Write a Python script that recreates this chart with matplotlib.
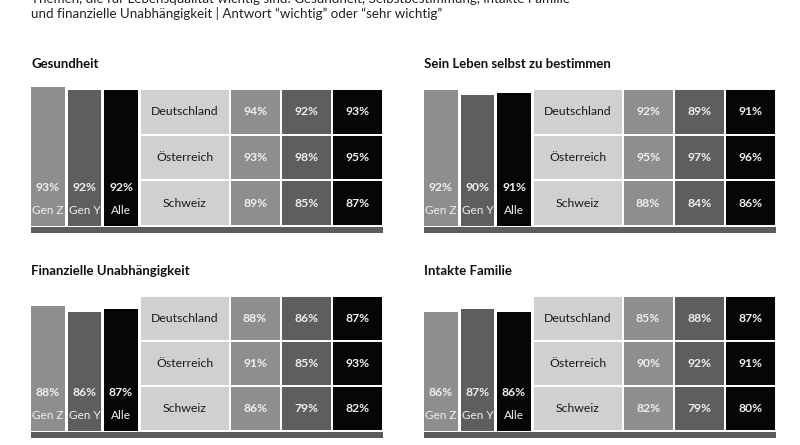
import matplotlib.pyplot as plt

plt.rcParams['font.family'] = ['Lato', 'DejaVu Sans']

header = ['Themen, die für Lebensqualität wichtig sind: Gesundheit, Selbstbestimmung, intakte Familie',
          'und finanzielle Unabhängigkeit | Antwort “wichtig” oder “sehr wichtig”']

titles = ['Gesundheit', 'Sein Leben selbst zu bestimmen',
          'Finanzielle Unabhängigkeit', 'Intakte Familie']
groups = ['Gen Z', 'Gen Y', 'Alle']
countries = ['Deutschland', 'Österreich', 'Schweiz']

# overall values per generation (Gen Z, Gen Y, Alle)
gesundheit_total = [93, 92, 92]
leben_total = [92, 90, 91]
finanz_total = [88, 86, 87]
familie_total = [86, 87, 86]

# per country rows, columns Gen Z, Gen Y, Alle
gesundheit_land = [[94, 92, 93], [93, 98, 95], [89, 85, 87]]
leben_land = [[92, 89, 91], [95, 97, 96], [88, 84, 86]]
finanz_land = [[88, 86, 87], [91, 85, 93], [86, 79, 82]]
familie_land = [[85, 88, 87], [90, 92, 91], [82, 79, 80]]

totals = [gesundheit_total, leben_total, finanz_total, familie_total]
tables = [gesundheit_land, leben_land, finanz_land, familie_land]

colors = ['#8e8e8e', '#5e5e5e', '#060606']
land_color = '#d0d0d0'
strip_color = '#5c5c5c'

W, H = 800, 445
fig = plt.figure(figsize=(8, 4.45), dpi=100)


def px_axes(x, y_top, w, h):
    return fig.add_axes([x / W, 1 - (y_top + h) / H, w / W, h / H])


# header text (first line is cut off at the top edge, as in the source)
fig.text(31 / W, 1 - (-1) / H, header[0], fontsize=9.6, color='#222222',
         va='center', ha='left')
fig.text(31 / W, 1 - 13 / H, header[1], fontsize=9.6, color='#222222',
         va='center', ha='left')

# panel origins: left edge of bars, top and bottom of table
origins = [(31, 89, 226), (424, 89, 226), (31, 296, 431), (424, 296, 431)]

v0 = 45
px_per_pct = 2.9

for k, (x0, top, bot) in enumerate(origins):
    # title
    fig.text(x0 / W, 1 - (top - 25) / H, titles[k], fontsize=9.5,
             fontweight='bold', color='#111111', va='center', ha='left')

    # bars
    bh = 150
    ax = px_axes(x0, bot - bh, 107, bh)
    xs = list(range(len(groups)))
    ax.bar(xs, [v - v0 for v in totals[k]], bottom=v0, width=0.93,
           color=colors)
    ax.set_xlim(-0.465, 2.465)
    ax.set_ylim(v0, v0 + bh / px_per_pct)
    ax.axis('off')
    for i, v in enumerate(totals[k]):
        ax.annotate(f'{v}%', xy=(i, v0), xytext=(0, 27.5),
                    textcoords='offset points', ha='center', va='center',
                    fontsize=8.7, fontweight='bold', color='#f0f0f0')
        ax.annotate(groups[i], xy=(i, v0), xytext=(0, 11.5),
                    textcoords='offset points', ha='center', va='center',
                    fontsize=8.5, color='#f0f0f0')

    # table
    tax = px_axes(x0 + 109, top, 243, bot - top)
    widths = [1.75, 1, 1, 1]
    lefts = [0, 1.75, 2.75, 3.75]
    for r, land in enumerate(countries):
        tax.bar(lefts[0], 1, width=widths[0], bottom=r, align='edge',
                color=land_color, edgecolor='white', linewidth=1.4)
        tax.text(lefts[0] + widths[0] / 2, r + 0.5, land, fontsize=8.8,
                 ha='center', va='center', color='#1a1a1a')
        for c, v in enumerate(tables[k][r]):
            tax.bar(lefts[c + 1], 1, width=widths[c + 1], bottom=r,
                    align='edge', color=colors[c], edgecolor='white',
                    linewidth=1.4)
            tax.text(lefts[c + 1] + widths[c + 1] / 2, r + 0.5, f'{v}%',
                     fontsize=8.7, fontweight='bold', ha='center',
                     va='center', color='#f0f0f0')
    tax.set_xlim(0, sum(widths))
    tax.set_ylim(len(countries), 0)
    tax.axis('off')

    # grey base strip
    sax = px_axes(x0, bot + 1, 352, 6)
    sax.set_facecolor(strip_color)
    sax.set_xticks([])
    sax.set_yticks([])
    for s in sax.spines.values():
        s.set_visible(False)

fig.savefig('out.png', dpi=100, facecolor='white')
